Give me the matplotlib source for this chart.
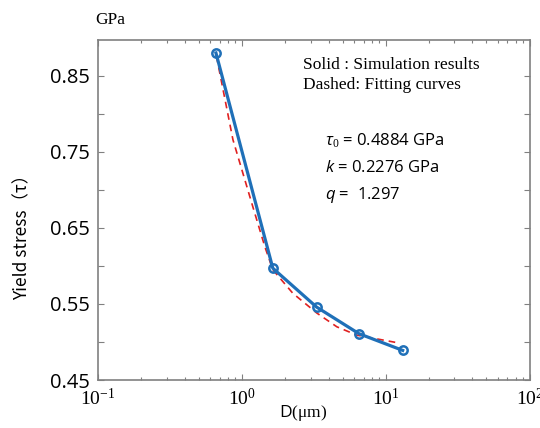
import matplotlib
matplotlib.use("Agg")
import matplotlib.pyplot as plt
from matplotlib.ticker import FixedLocator, LogLocator, NullFormatter

# simulation results (solid)
grain_size = [0.66, 1.64, 3.3, 6.5, 13.1]
yield_stress = [0.880, 0.597, 0.546, 0.511, 0.489]

# fitting curve (dashed)
fit_d = [0.665, 0.866, 1.19, 1.445, 1.64, 2.26, 3.32, 4.57, 6.3, 12.1]
fit_tau = [0.876, 0.766, 0.678, 0.625, 0.595, 0.564, 0.538, 0.520, 0.509, 0.499]

y_major = [0.45, 0.55, 0.65, 0.75, 0.85]
y_minor = [0.50, 0.60, 0.70, 0.80]
x_ticks = [0.1, 1, 10, 100]
x_labels = [r'$\mathrm{10^{-1}}$', r'$\mathrm{10^{0}}$', r'$\mathrm{10^{1}}$', r'$\mathrm{10^{2}}$']

blue = '#1f70b8'
grey = '#808080'
serif = 'Liberation Serif'
sans = 'Open Sans'

plt.rcParams['mathtext.fontset'] = 'custom'
plt.rcParams['mathtext.rm'] = serif
plt.rcParams['mathtext.it'] = 'Open Sans:italic'
plt.rcParams['mathtext.sf'] = sans

fig = plt.figure(figsize=(5.4, 4.28), dpi=100)
ax = fig.add_axes([0.1815, 0.112, 0.7995, 0.7945])

ax.plot(fit_d, fit_tau, color='#e02020', linestyle=(0, (4, 3)), linewidth=1.2, zorder=2)
ax.plot(grain_size, yield_stress, color=blue, linewidth=2.3, marker='o',
        markersize=6, markerfacecolor='none', markeredgecolor=blue,
        markeredgewidth=1.8, zorder=3)

ax.set_xscale('log')
ax.set_xlim(0.1, 100)
ax.set_ylim(0.45, 0.897)

ax.yaxis.set_major_locator(FixedLocator(y_major))
ax.yaxis.set_minor_locator(FixedLocator(y_minor))
ax.set_yticklabels(['0.45', '0.55', '0.65', '0.75', '0.85'], fontsize=14.5, family=sans)
ax.xaxis.set_minor_locator(LogLocator(base=10, subs=range(2, 10), numticks=20))
ax.xaxis.set_minor_formatter(NullFormatter())
ax.set_xticks(x_ticks)
ax.set_xticklabels(x_labels, fontsize=14)

ax.tick_params(which='both', direction='in', top=True, right=True, color=grey)
ax.tick_params(which='major', length=4.5, width=0.8)
ax.tick_params(which='minor', length=2.5, width=0.8)
ax.tick_params(axis='y', which='minor', length=4.5)
ax.tick_params(axis='y', pad=6)
ax.tick_params(axis='x', pad=6)
for s in ax.spines.values():
    s.set_color(grey)
    s.set_linewidth(1.2)

# axis labels placed by hand to sit where the reference has them
ax.text(-0.176, 0.432, 'Yield stress（τ）', transform=ax.transAxes, rotation=90,
        ha='center', va='center', family=['Noto Sans CJK SC', 'DejaVu Sans'],
        fontsize=12.5)
ax.text(0.475, -0.097, r'$\mathsf{D}\mathrm{(\mu m)}$', transform=ax.transAxes,
        ha='center', va='center', fontsize=12.5)

fig.text(0.176, 0.945, 'GPa', family=serif, fontsize=12.5)
ax.text(0.475, 0.95, 'Solid : Simulation results', transform=ax.transAxes,
        family=serif, fontsize=12.5, va='top')
ax.text(0.475, 0.89, 'Dashed: Fitting curves', transform=ax.transAxes,
        family=serif, fontsize=12.5, va='top')
ax.text(0.525, 0.705, r'$\tau_{\mathrm{0}}$ = 0.4884 GPa', transform=ax.transAxes,
        family=sans, fontsize=12, va='center')
ax.text(0.525, 0.625, r'$k$ = 0.2276 GPa', transform=ax.transAxes,
        family=sans, fontsize=12, va='center')
ax.text(0.525, 0.545, r'$q$ =  1.297', transform=ax.transAxes,
        family=sans, fontsize=12, va='center')

fig.savefig('out.png', dpi=100)
